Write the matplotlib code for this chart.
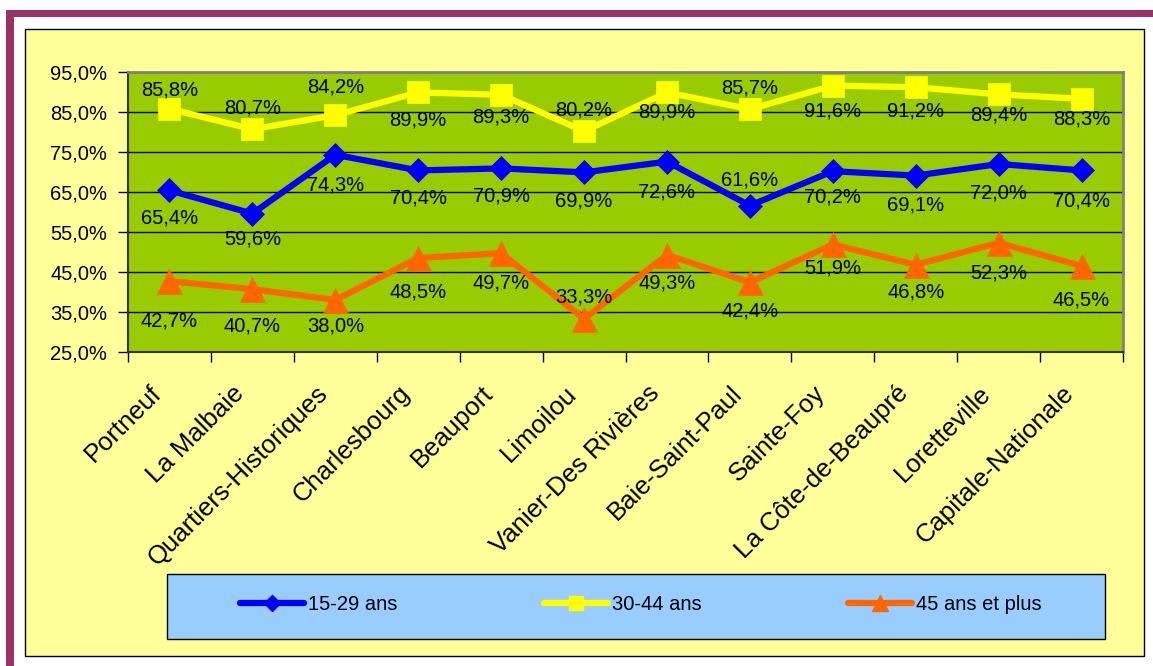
import matplotlib

matplotlib.use("Agg")
import matplotlib.pyplot as plt
from matplotlib.lines import Line2D
from matplotlib.patches import Rectangle
from matplotlib.ticker import FixedLocator, FuncFormatter
from matplotlib.transforms import ScaledTranslation

plt.rcParams["font.family"] = ["Liberation Sans", "DejaVu Sans"]

regions = ["Portneuf", "La Malbaie", "Quartiers-Historiques", "Charlesbourg",
           "Beauport", "Limoilou", "Vanier-Des Rivières", "Baie-Saint-Paul",
           "Sainte-Foy", "La Côte-de-Beaupré", "Loretteville", "Capitale-Nationale"]
age_15_29 = [65.4, 59.6, 74.3, 70.4, 70.9, 69.9, 72.6, 61.6, 70.2, 69.1, 72.0, 70.4]
age_30_44 = [85.8, 80.7, 84.2, 89.9, 89.3, 80.2, 89.9, 85.7, 91.6, 91.2, 89.4, 88.3]
age_45_plus = [42.7, 40.7, 38.0, 48.5, 49.7, 33.3, 49.3, 42.4, 51.9, 46.8, 52.3, 46.5]
series_names = ["15-29 ans", "30-44 ans", "45 ans et plus"]

# vertical offsets of the data labels, in pixels (positive = below the point)
off_15_29 = [28, 25, 30, 28, 28, 29, 30, -26, 26, 29, 29, 31]
off_30_44 = [-19, -21, -28, 28, 22, -21, 20, -21, 25, 24, 21, 20]
off_45_plus = [40, 37, 26, 34, 30, -22, 28, 29, 24, 27, 30, 34]

W, H = 1153, 666
BLUE, YELLOW, ORANGE = "#0000FF", "#FFFF00", "#FF6600"


def fx(px):
    return px / W


def fy(py):
    return 1 - py / H


fig = plt.figure(figsize=(W / 100, H / 100), dpi=100)
fig.patch.set_facecolor("white")

# maroon frame (top and left) and the pale yellow chart area
fig.patches.append(Rectangle((fx(6), fy(17)), fx(1153 - 6), 7 / H, transform=fig.transFigure,
                             facecolor="#993366", edgecolor="none", zorder=-3))
fig.patches.append(Rectangle((fx(6), 0), 8 / W, fy(10), transform=fig.transFigure,
                             facecolor="#993366", edgecolor="none", zorder=-3))
fig.patches.append(Rectangle((fx(25), fy(656)), (1144 - 25) / W, (656 - 29) / H,
                             transform=fig.transFigure, facecolor="#FFFF99",
                             edgecolor="black", linewidth=1, zorder=-2))
fig.patches.append(Rectangle((fx(167), fy(639)), (1105 - 167) / W, (639 - 574) / H,
                             transform=fig.transFigure, facecolor="#99CCFF",
                             edgecolor="black", linewidth=1, zorder=-1))

ax = fig.add_axes([fx(128), fy(352), (1123 - 128) / W, (352 - 72) / H])
ax.set_zorder(2)
ax.set_facecolor("#99CC00")

x = list(range(len(regions)))
styles = [(age_15_29, off_15_29, BLUE, "D", 12),
          (age_30_44, off_30_44, YELLOW, "s", 16.5),
          (age_45_plus, off_45_plus, ORANGE, "^", 18)]
for vals, offs, color, marker, ms in styles:
    ax.plot(x, vals, color=color, linewidth=4.5, marker=marker, markersize=ms,
            markeredgecolor=color, markeredgewidth=0.5, zorder=3)
    for xi, v, dy in zip(x, vals, offs):
        ax.annotate(f"{v:.1f}%".replace(".", ","), (xi, v), xytext=(0, -dy),
                    textcoords="offset pixels", ha="center", va="center",
                    fontsize=14.5, color="black", zorder=5)

ax.set_xlim(-0.5, len(regions) - 0.5)
ax.set_ylim(25, 95)
ax.yaxis.set_major_locator(FixedLocator([25, 35, 45, 55, 65, 75, 85, 95]))
ax.yaxis.set_major_formatter(FuncFormatter(lambda v, _: f"{v:.1f}%".replace(".", ",")))
ax.grid(axis="y", color="black", linewidth=1, zorder=1)
ax.set_axisbelow(True)
ax.tick_params(axis="y", direction="out", length=7, width=1, pad=8, labelsize=14.5)

ax.set_xticks(x)
ax.set_xticklabels(regions, rotation=45, ha="right", va="top",
                   rotation_mode="anchor", fontsize=18.5)
ax.set_xticks([i - 0.5 for i in range(len(regions) + 1)], minor=True)
ax.tick_params(axis="x", which="major", length=0, pad=21)
ax.tick_params(axis="x", which="minor", direction="out", length=7, width=1)
shift = ScaledTranslation(-20 / 100, 0, fig.dpi_scale_trans)
for lab in ax.get_xticklabels():
    lab.set_transform(lab.get_transform() + shift)

for side in ["top", "right"]:
    ax.spines[side].set_color("#808080")
    ax.spines[side].set_linewidth(2)
for side in ["left", "bottom"]:
    ax.spines[side].set_color("#333333")
    ax.spines[side].set_linewidth(1.5)

handles = [Line2D([], [], color=BLUE, linewidth=4.5, marker="D", markersize=8,
                  solid_capstyle="round"),
           Line2D([], [], color=YELLOW, linewidth=4.5, marker="s", markersize=10,
                  solid_capstyle="round"),
           Line2D([], [], color=ORANGE, linewidth=4.5, marker="^", markersize=12,
                  solid_capstyle="round")]
fig.legend(handles, series_names, loc="center left", bbox_to_anchor=(fx(240), fy(605)),
           ncol=3, frameon=False, borderpad=0, borderaxespad=0, fontsize=14.5,
           handlelength=3.2, handletextpad=0.2, columnspacing=7.25)

fig.savefig("out.png", dpi=100)
